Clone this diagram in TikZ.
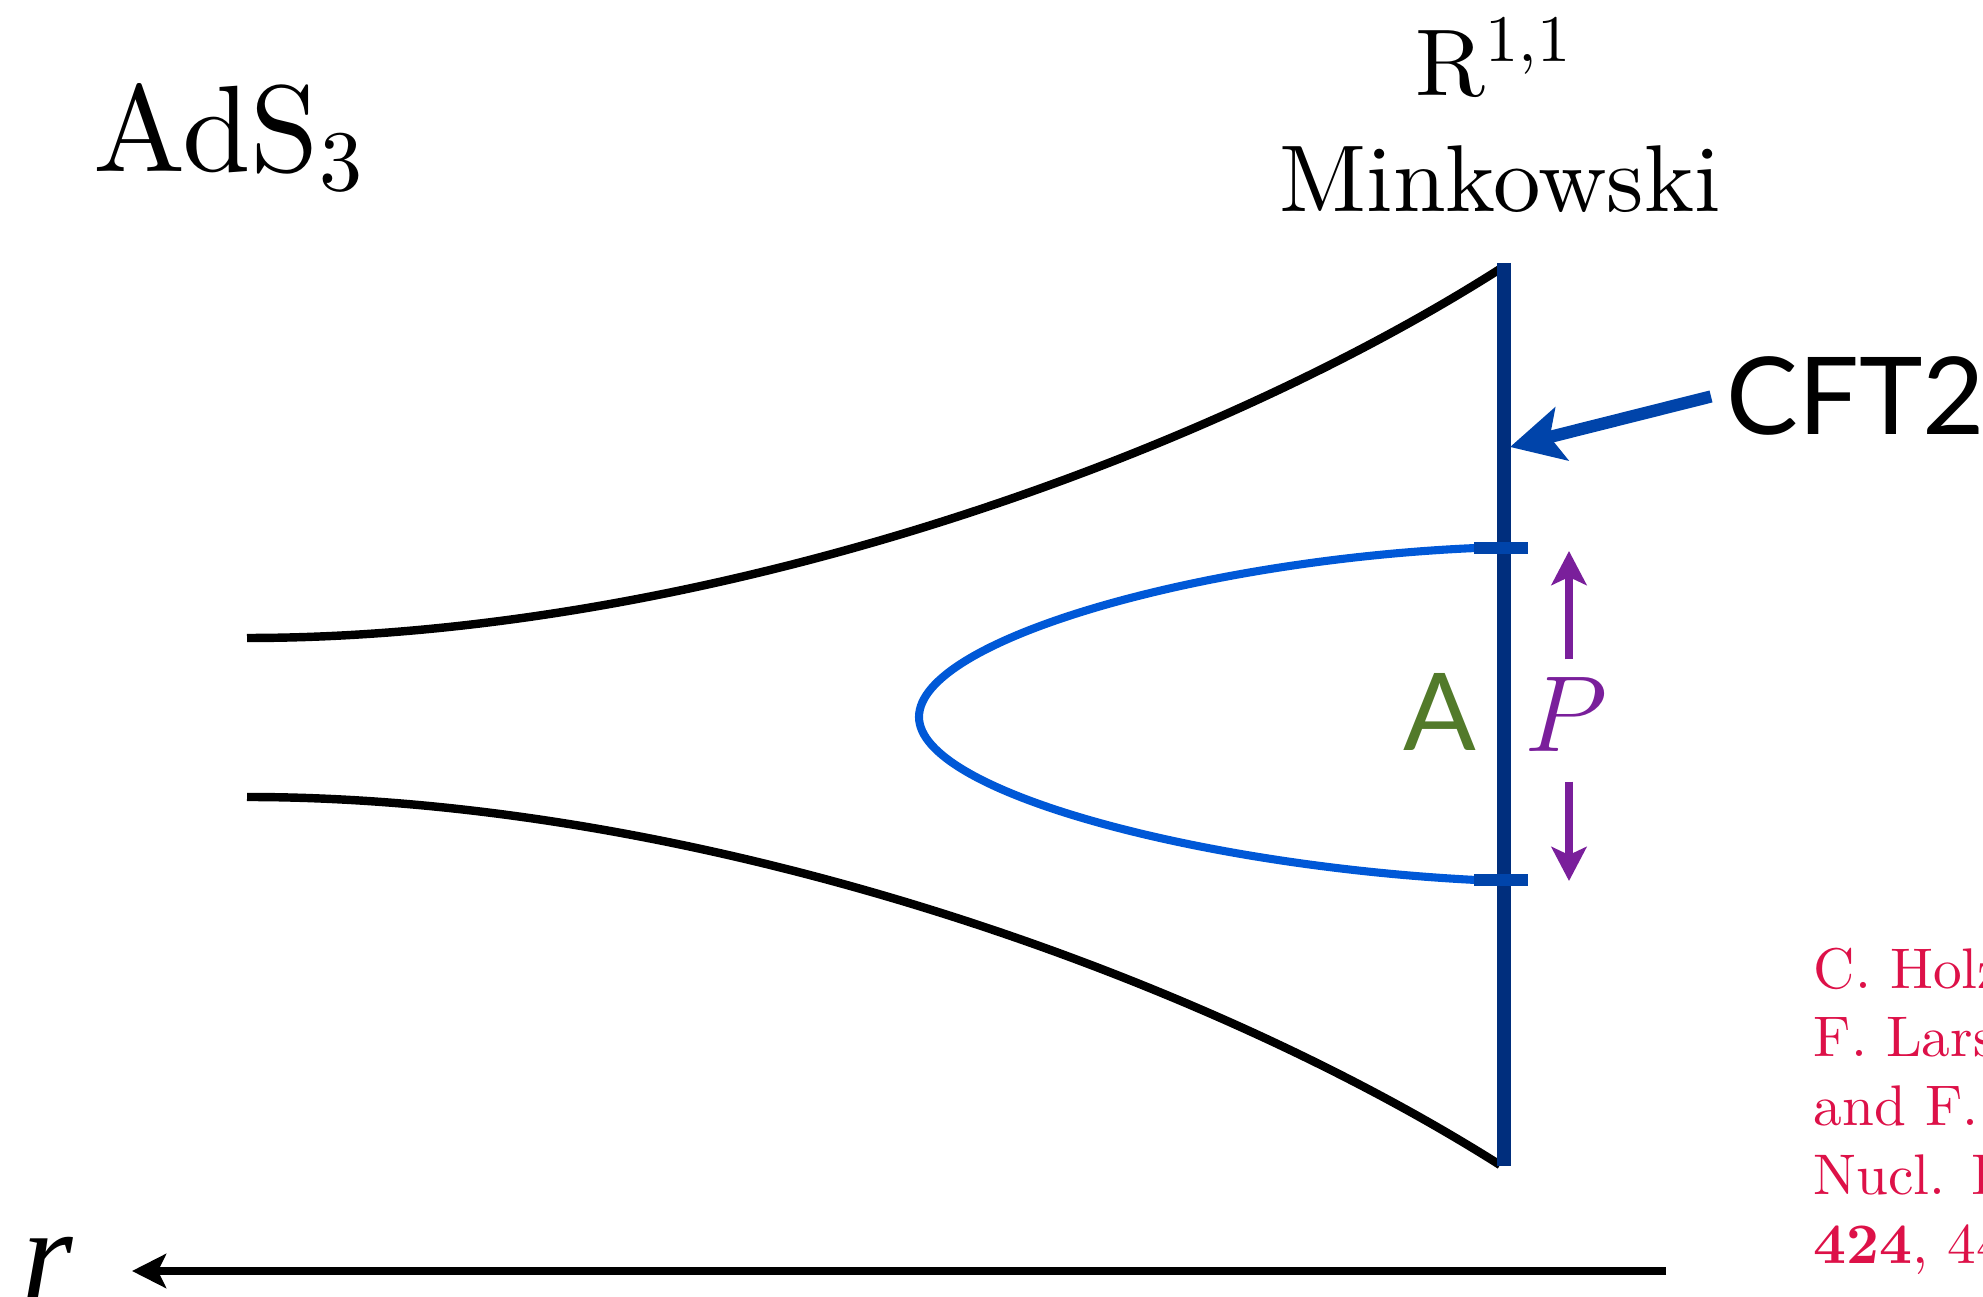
\RequirePackage{fix-cm}
\documentclass[tikz,border=0pt]{standalone}
\usepackage{fontspec}
\setmainfont{lmroman10-regular}[Extension=.otf, BoldFont=lmroman10-bold, ItalicFont=lmroman10-italic]
\newfontfamily\gillfont{Lato}
\newfontfamily\timesfont{Liberation Serif}
\usepackage{tikz}
\usetikzlibrary{positioning, arrows.meta}

\definecolor{bdnavy}{RGB}{0,46,125}
\definecolor{arrblue}{RGB}{0,68,170}
\definecolor{rtblue}{RGB}{0,88,215}
\definecolor{agreen}{RGB}{82,122,42}
\definecolor{ppurple}{RGB}{122,31,155}
\definecolor{citered}{RGB}{221,17,72}

\begin{document}
\begin{tikzpicture}[
    bdry/.style={draw=bdnavy, line width=4pt},
    tickmark/.style={draw=arrblue, line width=3.6pt},
    horn/.style={draw=black, line width=2.4pt},
    rtcurve/.style={draw=rtblue, line width=2.3pt},
    cftarrow/.style={-{Stealth[length=5.3mm, width=5.4mm, inset=1.2mm]}, draw=arrblue, line width=3.5pt},
    parrow/.style={-{Stealth[length=3.4mm, width=3.5mm, inset=0.8mm]}, draw=ppurple, line width=2.2pt},
    raxis/.style={-{Stealth[length=3.4mm, width=3.4mm, inset=0.8mm]}, draw=black, line width=2.4pt},
    biglabel/.style={inner sep=0pt, font=\fontsize{27}{32}\selectfont},
    sanslabel/.style={font=\gillfont\fontsize{30.6}{36}\selectfont},
    cite/.style={inner sep=0pt, align=left, text=citered, font=\fontsize{16.3}{19.6}\selectfont},
]
\useasboundingbox (0,0) rectangle (19.83,12.96);

% Titles
\node[inner sep=0pt, anchor=base west, font=\fontsize{35}{42}\selectfont] (ads) at (0.93,11.24) {AdS\textsubscript{3}};
\node[biglabel, anchor=base] (mink) at (15.00,10.84) {Minkowski};
\node[biglabel, above=4.7mm of mink, xshift=-0.6mm] (rmink) {R\textsuperscript{1,1}};

% Boundary points
\coordinate (bdtop) at (15.04,10.33);
\coordinate (bdbot) at (15.04,1.30);
\coordinate (ta) at (15.04,7.48);
\coordinate (tb) at (15.04,4.16);
\coordinate (cfttip) at (15.10,8.49);

% Horn
\draw[horn] (2.47,6.58) .. controls (7.00,6.58) and (12.00,8.36) .. (15.00,10.27);
\draw[horn] (2.47,4.99) .. controls (7.00,4.99) and (12.00,3.21) .. (15.00,1.31);

% Geodesic
\draw[rtcurve] (14.76,7.48) .. controls (12.00,7.36) and (9.19,6.56) .. (9.19,5.79)
    .. controls (9.19,5.04) and (12.00,4.30) .. (14.76,4.16);

% Boundary with interval ends
\draw[bdry] (bdtop) -- (bdbot);
\draw[tickmark] ([xshift=-3mm]ta) -- ([xshift=2.4mm]ta);
\draw[tickmark] ([xshift=-3mm]tb) -- ([xshift=2.4mm]tb);

% CFT2
\node[sanslabel, inner sep=1.5mm, anchor=base west] (cft) at (17.11,8.61) {CFT2};
\draw[cftarrow] (cft.west) -- (cfttip);

% A and P
\node[sanslabel, inner sep=0pt, anchor=base, text=agreen] (A) at (14.40,5.45) {A};
\node[inner sep=0pt, anchor=base, text=ppurple, font=\fontsize{30.8}{36}\selectfont] (P) at (15.66,5.44) {$P$};
\draw[parrow] ([xshift=0.3mm, yshift=1.8mm]P.north) -- ([xshift=0.3mm, yshift=-0.3mm]P |- ta);
\draw[parrow] ([xshift=0.3mm, yshift=-2.9mm]P.south) -- ([xshift=0.3mm, yshift=-0.1mm]P |- tb);

% r axis
\node[inner sep=0pt, anchor=base, font=\timesfont\itshape\fontsize{37}{44}\selectfont] (r) at (0.48,-0.02) {r};
\coordinate (rtail) at (16.66,0.25);
\draw[raxis, shorten >=5.8mm] (rtail) -- (rtail -| r.east);

% Reference
\node[cite, anchor=north west] (ref) at (18.13,3.49) {C. Holzhey,\\F. Larsen\\and F. Wilczek,\\Nucl. Phys. B\\\textbf{424}, 443 (1994)};

\end{tikzpicture}
\end{document}
